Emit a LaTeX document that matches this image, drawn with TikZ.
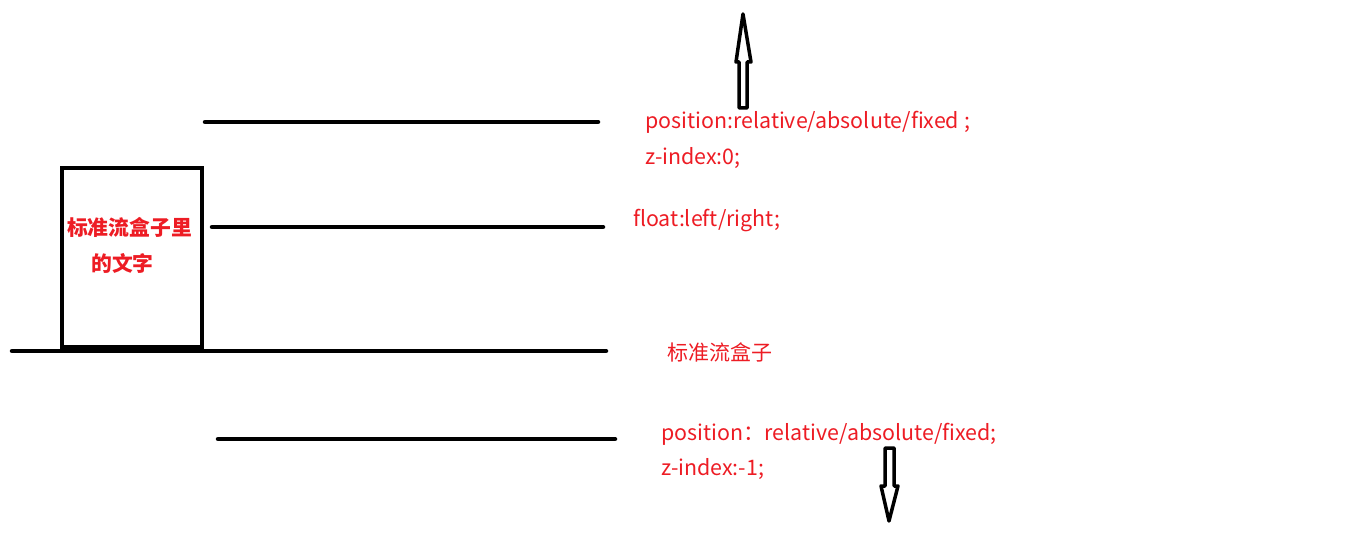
\documentclass[tikz,border=0pt]{standalone}
\usepackage{fontspec}
\setmainfont{Noto Sans CJK SC}
\definecolor{pred}{RGB}{237,28,36}
\begin{document}
\begin{tikzpicture}[x=1pt,y=-1pt,
  bar/.style={line width=4.5pt,line cap=round},
  lbl/.style={anchor=west,inner sep=0pt,text=pred,font=\fontsize{21.4}{24}\selectfont},
  boxlbl/.style={anchor=center,inner sep=0pt,text=pred,font=\fontsize{20.8}{24}\selectfont\bfseries},
  hollow/.style={line width=3.5pt,line join=round}]
\useasboundingbox (0,0) rectangle (1360,540);
% lines
\draw[bar] (205,122) -- (598,122);
\draw[bar] (212,227) -- (603,227);
\draw[bar] (12,351) -- (606,351);
\draw[bar] (218,439) -- (615,439);
% box
\draw[line width=4.5pt] (62,348) -- (62,168) -- (202,168) -- (202,348);
\fill (60,345) rectangle (204,353);
\node[boxlbl] (boxt1) at (129.5,227) {标准流盒子里};
\node[boxlbl] (boxt2) at (122.5,263) {的文字};
% labels
\node[lbl] (t1) at (645,122) {position:relative/absolute/fixed ;};
\node[lbl] (t2) at (645,158) {z-index:0;};
\node[lbl] (t3) at (633,221) {float:left/right;};
\node[lbl,font=\fontsize{21}{24}\selectfont] (t4) at (667,352) {标准流盒子};
\node[lbl] (t5) at (661,434) {position：relative/absolute/fixed;};
\node[lbl] (t6) at (661,469) {z-index:-1;};
% arrows
\draw[hollow] (739,108) -- (739,62) -- (736,62) -- (743,14) -- (751,62) -- (747,62) -- (747,108) -- cycle;
\draw[hollow] (885,448) -- (885,486) -- (881,486) -- (889,521) -- (898,486) -- (894,486) -- (894,448) -- cycle;
\end{tikzpicture}
\end{document}
